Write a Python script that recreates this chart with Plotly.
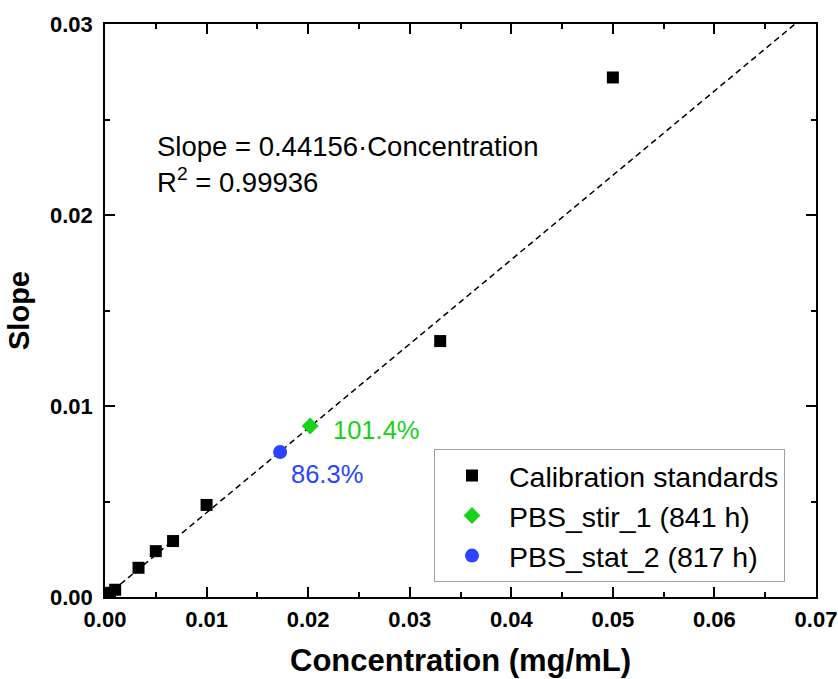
import plotly.graph_objects as go

# Calibration standards (concentration in mg/mL, measured slope)
std_conc = [0.0005, 0.001, 0.0033, 0.005, 0.0067, 0.01, 0.033, 0.05]
std_slope = [0.00022, 0.00038, 0.00153, 0.0024, 0.00293, 0.00482, 0.0134, 0.0272]

# Samples placed on the calibration line
stir_conc = [0.0202]
stir_slope = [0.00895]
stir_label = "101.4%"

stat_conc = [0.01724]
stat_slope = [0.00759]
stat_label = "86.3%"

# Linear fit through the origin
fit_slope = 0.44156
fit_r2 = 0.99936
fit_x = [0.0, 0.068]
fit_y = [fit_slope * x for x in fit_x]

FONT = "Liberation Sans, Arial, sans-serif"

fig = go.Figure()

fig.add_trace(go.Scatter(
    x=fit_x, y=fit_y, mode="lines",
    line=dict(color="black", width=1.5, dash="6px,4px"),
    showlegend=False, hoverinfo="skip",
))
fig.add_trace(go.Scatter(
    x=std_conc, y=std_slope, mode="markers", name="Calibration standards",
    marker=dict(symbol="square", size=12, color="black"),
))
fig.add_trace(go.Scatter(
    x=stir_conc, y=stir_slope, mode="markers", name="PBS_stir_1 (841 h)",
    marker=dict(symbol="diamond", size=13, color="#19d219"),
))
fig.add_trace(go.Scatter(
    x=stat_conc, y=stat_slope, mode="markers", name="PBS_stat_2 (817 h)",
    marker=dict(symbol="circle", size=14, color="#2b45ff"),
))

fig.add_annotation(
    x=stir_conc[0], y=stir_slope[0], text=stir_label, showarrow=False,
    xanchor="left", yanchor="middle", xshift=21, yshift=-4,
    font=dict(family=FONT, size=25.5, color="#19d219"),
)
fig.add_annotation(
    x=stat_conc[0], y=stat_slope[0], text=stat_label, showarrow=False,
    xanchor="left", yanchor="middle", xshift=9, yshift=-22,
    font=dict(family=FONT, size=25.5, color="#2b45ff"),
)
fig.add_annotation(
    x=0.0049, y=0.0236, text=f"Slope = {fit_slope:.5f}·Concentration",
    showarrow=False, xanchor="left", yanchor="middle",
    font=dict(family=FONT, size=27.5, color="black"),
)
fig.add_annotation(
    x=0.0049, y=0.0218, text=f"R<sup>2</sup> = {fit_r2:.5f}",
    showarrow=False, xanchor="left", yanchor="middle",
    font=dict(family=FONT, size=27.5, color="black"),
)

axis_common = dict(
    showline=True, linecolor="black", linewidth=1.5, mirror="allticks",
    ticks="inside", ticklen=10, tickwidth=1.5, tickcolor="black",
    showgrid=False, zeroline=False, automargin=False,
    tickfont=dict(family=FONT, size=22, color="black", weight="bold"),
)

fig.update_xaxes(
    range=[0, 0.07], dtick=0.01, tickformat=".2f", ticklabelstandoff=2,
    minor=dict(ticks="inside", ticklen=5, tickwidth=1.5, tickcolor="black", dtick=0.005),
    title=dict(text="Concentration (mg/mL)", standoff=18,
               font=dict(family=FONT, size=31, color="black", weight="bold")),
    **axis_common,
)
fig.update_yaxes(
    range=[0, 0.03], dtick=0.01, tickformat=".2f", ticklabelstandoff=6,
    minor=dict(ticks="inside", ticklen=5, tickwidth=1.5, tickcolor="black", dtick=0.005),
    title=dict(text="Slope", standoff=12,
               font=dict(family=FONT, size=29, color="black", weight="bold")),
    **axis_common,
)

fig.update_layout(
    width=838, height=679,
    margin=dict(l=105, r=22, t=24, b=82),
    plot_bgcolor="white", paper_bgcolor="white",
    font=dict(family=FONT, color="black"),
    legend=dict(
        x=0.4627, y=0.2575, xanchor="left", yanchor="top",
        bgcolor="white", bordercolor="#a0a0a0", borderwidth=1,
        font=dict(family=FONT, size=28.5, color="black"),
        itemwidth=64,
    ),
)

fig.write_html("out.html")
